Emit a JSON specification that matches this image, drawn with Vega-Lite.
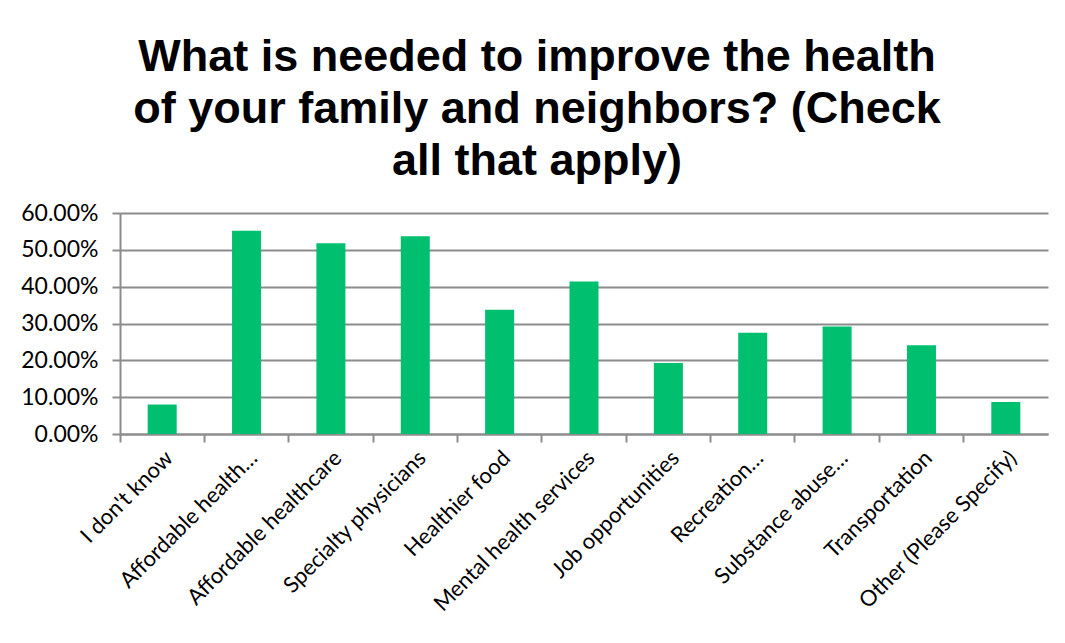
{
  "$schema": "https://vega.github.io/schema/vega-lite/v6.json",
  "width": 928,
  "height": 221,
  "autosize": {"type": "none"},
  "padding": {"left": 120, "top": 213, "right": 17, "bottom": 209},
  "background": "white",
  "title": {
    "text": ["What is needed to improve the health", "of your family and neighbors? (Check", "all that apply)"],
    "font": "Liberation Sans",
    "fontSize": 45,
    "fontWeight": "bold",
    "color": "black",
    "lineHeight": 52,
    "anchor": "middle",
    "dx": -47,
    "offset": 18
  },
  "data": {
    "values": [
      {"option": "I don't know", "pct": 0.080},
      {"option": "Affordable health…", "pct": 0.552},
      {"option": "Affordable healthcare", "pct": 0.518},
      {"option": "Specialty physicians", "pct": 0.537},
      {"option": "Healthier food", "pct": 0.337},
      {"option": "Mental health services", "pct": 0.414},
      {"option": "Job opportunities", "pct": 0.193},
      {"option": "Recreation…", "pct": 0.275},
      {"option": "Substance abuse…", "pct": 0.292},
      {"option": "Transportation", "pct": 0.241},
      {"option": "Other (Please Specify)", "pct": 0.087}
    ]
  },
  "mark": {"type": "bar", "color": "#00BF6F", "width": {"band": 0.344}},
  "encoding": {
    "x": {
      "field": "option",
      "type": "nominal",
      "sort": null,
      "scale": {"paddingInner": 0, "paddingOuter": 0},
      "axis": {
        "title": null,
        "labelAngle": -45,
        "labelFont": "Lato",
        "labelFontSize": 22,
        "labelColor": "black",
        "labelPadding": 5,
        "labelLimit": 400,
        "bandPosition": 0,
        "tickSize": 8,
        "tickColor": "#8c8c8c",
        "tickWidth": 2,
        "domainColor": "#8c8c8c",
        "domainWidth": 2,
        "grid": false
      }
    },
    "y": {
      "field": "pct",
      "type": "quantitative",
      "scale": {"domain": [0, 0.6], "nice": false},
      "axis": {
        "title": null,
        "format": ".2%",
        "values": [0, 0.1, 0.2, 0.3, 0.4, 0.5, 0.6],
        "labelFont": "Lato",
        "labelFontSize": 23,
        "labelColor": "black",
        "labelPadding": 14,
        "tickSize": 8,
        "tickColor": "#8c8c8c",
        "tickWidth": 2,
        "domainColor": "#8c8c8c",
        "domainWidth": 2,
        "grid": true,
        "gridColor": "#8c8c8c",
        "gridWidth": 2
      }
    }
  },
  "config": {"view": {"stroke": null}}
}
